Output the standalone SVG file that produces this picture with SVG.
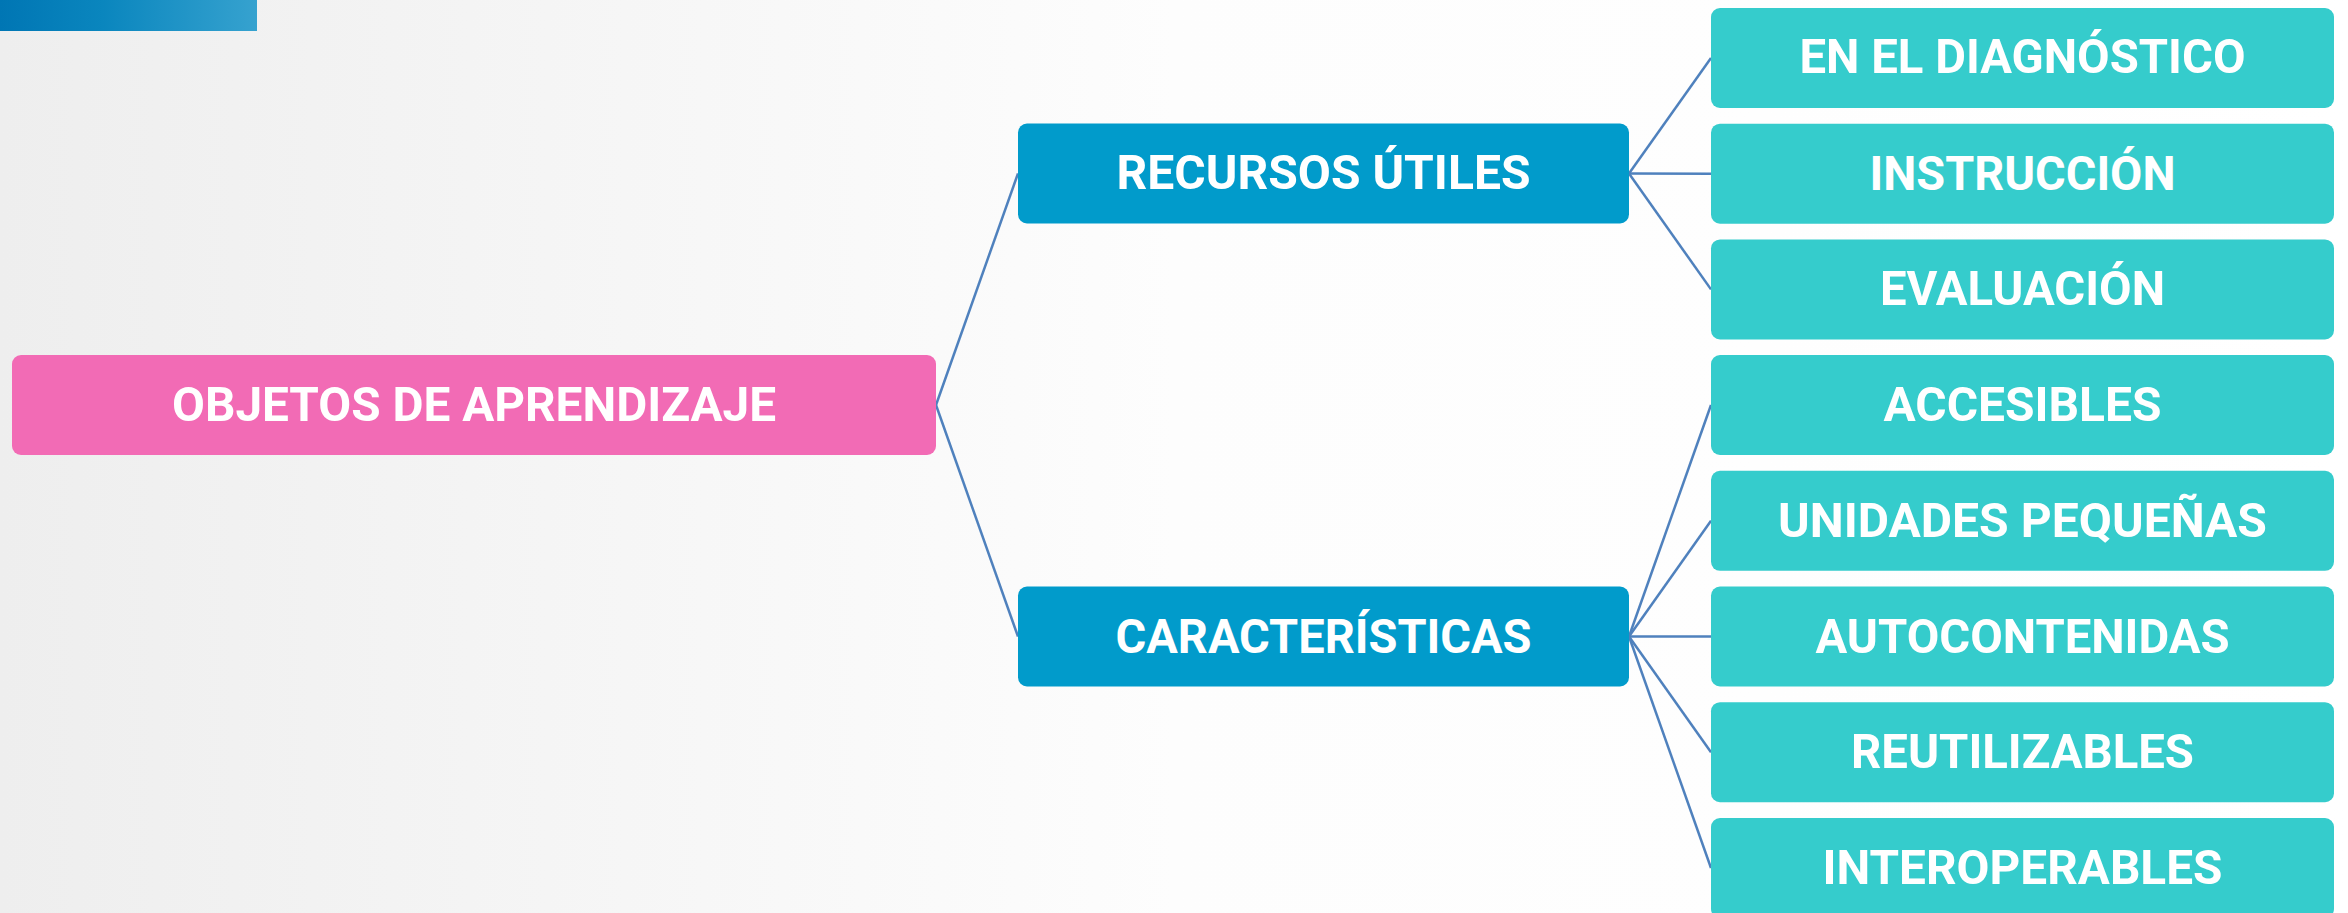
<svg xmlns="http://www.w3.org/2000/svg" width="2348" height="913" viewBox="0 0 2348 913">
<defs>
<linearGradient id="bg" x1="0" y1="0" x2="1" y2="0">
<stop offset="0" stop-color="#eeeeee"/>
<stop offset="0.5" stop-color="#fdfdfd"/>
<stop offset="1" stop-color="#ffffff"/>
</linearGradient>
<linearGradient id="bar" x1="0" y1="0" x2="1" y2="0">
<stop offset="0" stop-color="#0076b4"/>
<stop offset="0.4" stop-color="#0a86be"/>
<stop offset="1" stop-color="#36a2cf"/>
</linearGradient>
<style>
.root{fill:#f26bb5;}
.mid{fill:#019bcb;}
.leaf{fill:#35cccc;}
.t{font-family:Roboto,"Liberation Sans",sans-serif;font-weight:bold;font-size:49px;fill:#ffffff;text-anchor:middle;}
.c line{stroke:#4f81bd;stroke-width:2.5;}
</style>
</defs>
<rect x="0" y="0" width="2348" height="913" fill="url(#bg)"/>
<rect x="0" y="0" width="257" height="31" fill="url(#bar)"/>
<g class="c" id="connectors">
<line x1="936" y1="405" x2="1018" y2="173.5"/>
<line x1="936" y1="405" x2="1018" y2="636.5"/>
<line x1="1629" y1="173.5" x2="1711" y2="58"/>
<line x1="1629" y1="173.5" x2="1711" y2="173.7"/>
<line x1="1629" y1="173.5" x2="1711" y2="289.4"/>
<line x1="1629" y1="636.5" x2="1711" y2="405"/>
<line x1="1629" y1="636.5" x2="1711" y2="520.8"/>
<line x1="1629" y1="636.5" x2="1711" y2="636.5"/>
<line x1="1629" y1="636.5" x2="1711" y2="752.2"/>
<line x1="1629" y1="636.5" x2="1711" y2="868"/>
</g>
<g id="n-root"><rect class="root" x="12" y="355" width="924" height="100" rx="9"/><text class="t" x="474" y="421" textLength="604" lengthAdjust="spacingAndGlyphs">OBJETOS DE APRENDIZAJE</text></g>
<g id="n-recursos"><rect class="mid" x="1018" y="123.5" width="611" height="100" rx="9"/><text class="t" x="1323.5" y="189" textLength="414" lengthAdjust="spacingAndGlyphs">RECURSOS ÚTILES</text></g>
<g id="n-caracteristicas"><rect class="mid" x="1018" y="586.5" width="611" height="100" rx="9"/><text class="t" x="1323.5" y="653" textLength="416" lengthAdjust="spacingAndGlyphs">CARACTERÍSTICAS</text></g>
<g id="n-diagnostico"><rect class="leaf" x="1711" y="8" width="623" height="100" rx="9"/><text class="t" x="2022.5" y="73" textLength="446" lengthAdjust="spacingAndGlyphs">EN EL DIAGNÓSTICO</text></g>
<g id="n-instruccion"><rect class="leaf" x="1711" y="123.7" width="623" height="100" rx="9"/><text class="t" x="2022.5" y="189.5" textLength="306" lengthAdjust="spacingAndGlyphs">INSTRUCCIÓN</text></g>
<g id="n-evaluacion"><rect class="leaf" x="1711" y="239.4" width="623" height="100" rx="9"/><text class="t" x="2022.5" y="305" textLength="285" lengthAdjust="spacingAndGlyphs">EVALUACIÓN</text></g>
<g id="n-accesibles"><rect class="leaf" x="1711" y="355" width="623" height="100" rx="9"/><text class="t" x="2022.5" y="421" textLength="278" lengthAdjust="spacingAndGlyphs">ACCESIBLES</text></g>
<g id="n-unidades"><rect class="leaf" x="1711" y="470.8" width="623" height="100" rx="9"/><text class="t" x="2022.5" y="537" textLength="489" lengthAdjust="spacingAndGlyphs">UNIDADES PEQUEÑAS</text></g>
<g id="n-autocontenidas"><rect class="leaf" x="1711" y="586.5" width="623" height="100" rx="9"/><text class="t" x="2022.5" y="652.5" textLength="414" lengthAdjust="spacingAndGlyphs">AUTOCONTENIDAS</text></g>
<g id="n-reutilizables"><rect class="leaf" x="1711" y="702.2" width="623" height="100" rx="9"/><text class="t" x="2022.5" y="768" textLength="343" lengthAdjust="spacingAndGlyphs">REUTILIZABLES</text></g>
<g id="n-interoperables"><rect class="leaf" x="1711" y="818" width="623" height="100" rx="9"/><text class="t" x="2022.5" y="884" textLength="400" lengthAdjust="spacingAndGlyphs">INTEROPERABLES</text></g>
</svg>
